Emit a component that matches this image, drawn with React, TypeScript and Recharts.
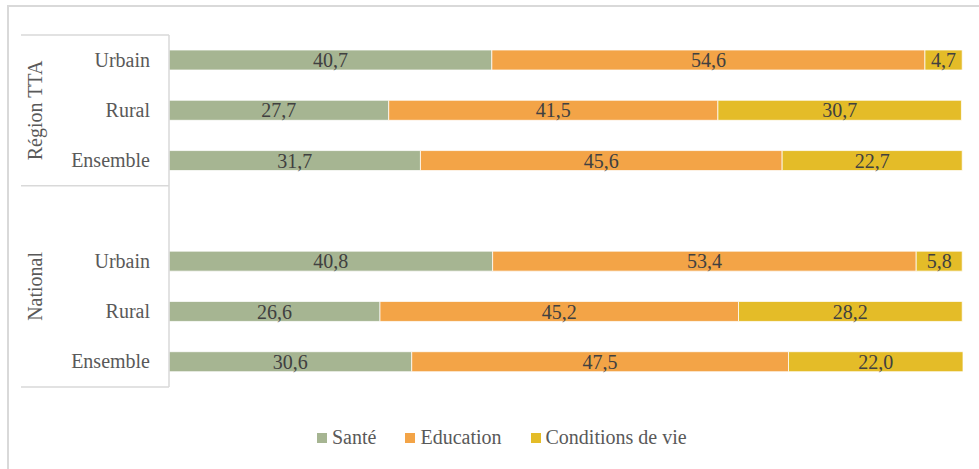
import React from "react";
import { BarChart, Bar, XAxis, YAxis, LabelList } from "recharts";

const groups = ["Région TTA", "National"];
const categories = ["Urbain", "Rural", "Ensemble", "", "Urbain", "Rural", "Ensemble"];
const groupOfRow = [0, 0, 0, 1, 1, 1, 1];
const sante = [40.7, 27.7, 31.7, null, 40.8, 26.6, 30.6];
const education = [54.6, 41.5, 45.6, null, 53.4, 45.2, 47.5];
const conditions = [4.7, 30.7, 22.7, null, 5.8, 28.2, 22.0];

const seriesNames = ["Santé", "Education", "Conditions de vie"];
const seriesKeys = ["sante", "education", "conditions"];
const seriesColors = ["#A6B592", "#F3A447", "#E4BC28"];

const data = categories.map((c, i) => ({
  id: `r${i}`,
  label: c,
  sante: sante[i],
  education: education[i],
  conditions: conditions[i],
}));

const FONT = "Liberation Serif";
const AXIS_GRAY = "#D9D9D9";
const TEXT_GRAY = "#595959";

const fmt = (v: any) => (v == null ? "" : Number(v).toFixed(1).replace(".", ","));

const CategoryTick = (props: any) => {
  const { y, payload, index } = props;
  const half = payload && payload.offset ? payload.offset : 25.15;
  const i = index;
  const elems: any[] = [];
  elems.push(
    <text key="t" x={150} y={y} dy="0.33em" textAnchor="end" fill={TEXT_GRAY} style={{ fontFamily: FONT }} fontSize={20}>
      {categories[i]}
    </text>
  );
  if (i === 0) {
    elems.push(<line key="l0" x1={21} x2={169} y1={y - half} y2={y - half} stroke={AXIS_GRAY} strokeWidth={1.5} />);
  }
  const last = i === categories.length - 1 || groupOfRow[i + 1] !== groupOfRow[i];
  if (last) {
    elems.push(<line key="l1" x1={21} x2={169} y1={y + half} y2={y + half} stroke={AXIS_GRAY} strokeWidth={1.5} />);
  }
  const g = groupOfRow[i];
  const idxs = groupOfRow.map((gg, k) => (gg === g ? k : -1)).filter((k) => k >= 0);
  const first = idxs[0];
  const n = idxs.length;
  if (i === first) {
    const cy = y - half + n * half;
    elems.push(
      <text
        key="g"
        x={35}
        y={cy}
        transform={`rotate(-90, 35, ${cy})`}
        textAnchor="middle"
        dy="0.33em"
        fill={TEXT_GRAY}
        style={{ fontFamily: FONT }}
        fontSize={20}
      >
        {groups[g]}
      </text>
    );
  }
  return <g>{elems}</g>;
};

export default function App() {
  return (
    <div style={{ position: "absolute", left: 0, top: 0, width: 979, height: 469, background: "#fff", overflow: "hidden" }}>
      <div
        style={{
          position: "absolute",
          left: 7,
          top: 5,
          width: 990,
          height: 480,
          border: `2px solid ${AXIS_GRAY}`,
          boxSizing: "border-box",
        }}
      />
      <div style={{ position: "absolute", left: 0, top: 0 }}>
        <BarChart
          width={979}
          height={469}
          data={data}
          layout="vertical"
          margin={{ top: 35, right: 16, bottom: 82, left: 21 }}
          barCategoryGap={0}
        >
          <XAxis type="number" domain={[0, 100]} hide />
          <YAxis
            type="category"
            dataKey="id"
            width={148}
            axisLine={{ stroke: AXIS_GRAY, strokeWidth: 1.5 }}
            tickLine={false}
            tick={<CategoryTick />}
            interval={0}
          />
          {seriesKeys.map((k, si) => (
            <Bar
              key={k}
              dataKey={k}
              name={seriesNames[si]}
              stackId="a"
              fill={seriesColors[si]}
              stroke="#FFFFFF"
              strokeWidth={0.75}
              barSize={20}
              isAnimationActive={false}
            >
              <LabelList
                dataKey={k}
                position="center"
                formatter={fmt}
                fill="#404040"
                style={{ fontFamily: FONT }}
                fontSize={20}
              />
            </Bar>
          ))}
        </BarChart>
      </div>
      <div
        style={{
          position: "absolute",
          left: 317,
          top: 426,
          display: "flex",
          alignItems: "center",
          fontFamily: FONT,
          fontSize: 20,
          color: TEXT_GRAY,
          whiteSpace: "nowrap",
        }}
      >
        {seriesNames.map((n, i) => (
          <div key={n} style={{ display: "flex", alignItems: "center", marginRight: 29 }}>
            <span style={{ width: 10, height: 10, background: seriesColors[i], display: "inline-block", marginRight: 5 }} />
            <span>{n}</span>
          </div>
        ))}
      </div>
    </div>
  );
}
